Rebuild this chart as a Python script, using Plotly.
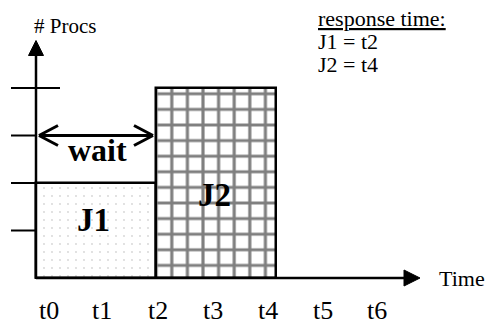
import plotly.graph_objects as go

# jobs in the schedule
jobs = ["J1", "J2"]
job_start = [0, 2]
job_end = [2, 4]
job_procs = [2, 4]

# axis labels
time_labels = ["t0", "t1", "t2", "t3", "t4", "t5", "t6"]
time_label_pos = [0.22, 1.1, 2.03, 2.95, 3.87, 4.78, 5.68]
proc_ticks = [1, 2, 3, 4]

response_lines = ["<u>response time:</u>", "J1 = t2", "J2 = t4"]

# wait interval of J2
wait_from, wait_to, wait_level = 0, 2, 3

# page body keeps an 8px margin, so the figure is 8px smaller
W, H = 486, 318
PX_X = 60.0   # pixels per time unit
PX_Y = 47.5   # pixels per processor
X0, Y0 = 28, 270  # pixel position of origin inside the figure
x_range = [-X0 / PX_X, (W - X0) / PX_X]
y_range = [-(H - Y0) / PX_Y, Y0 / PX_Y]


def dx(px):
    return px / PX_X


def dy(px):
    return px / PX_Y


FONT = "Liberation Serif"
fig = go.Figure()

fig.add_trace(go.Bar(
    x=[(s + e) / 2 for s, e in zip(job_start, job_end)],
    y=job_procs,
    width=[e - s for s, e in zip(job_start, job_end)],
    marker=dict(
        color="white",
        line=dict(color="black", width=2.5),
        pattern=dict(
            shape=[".", "+"],
            size=[8, 15.6],
            solidity=[0.04, 0.36],
            fgcolor=["#a8a8a8", "#000000"],
            bgcolor="white",
            fillmode="overlay",
        ),
    ),
    showlegend=False,
))

line_k = dict(color="black", width=2.5)
shapes = []
# y axis + arrow head
y_tip = 5.0
shapes.append(dict(type="line", x0=0, x1=0, y0=0, y1=y_tip - dy(8), line=line_k))
shapes.append(dict(
    type="path",
    path=f"M {-dx(7.5)},{y_tip - dy(15)} L {dx(7.5)},{y_tip - dy(15)} L 0,{y_tip} Z",
    fillcolor="black", line=dict(color="black", width=1),
))
# x axis + arrow head
x_tip = 6.4
shapes.append(dict(type="line", x0=0, x1=x_tip - dx(8), y0=0, y1=0, line=line_k))
shapes.append(dict(
    type="path",
    path=f"M {x_tip - dx(16)},{-dy(8)} L {x_tip - dx(16)},{dy(8)} L {x_tip},0 Z",
    fillcolor="black", line=dict(color="black", width=1),
))
# processor ticks
for p in proc_ticks:
    right = dx(24) if p == max(proc_ticks) else 0
    shapes.append(dict(type="line", x0=-dx(25), x1=right, y0=p, y1=p,
                       line=dict(color="black", width=2)))
# wait double arrow
wl = dict(color="black", width=3)
a, b = wait_from + dx(3), wait_to - dx(3)
shapes.append(dict(type="line", x0=a, x1=b, y0=wait_level, y1=wait_level, line=wl))
for tip, sgn in ((a, 1), (b, -1)):
    for s2 in (1, -1):
        shapes.append(dict(type="line", x0=tip, y0=wait_level,
                           x1=tip + sgn * dx(19), y1=wait_level + s2 * dy(10), line=wl))

annotations = []
for lab, pos in zip(time_labels, time_label_pos):
    annotations.append(dict(x=pos, y=-dy(32), text=lab, showarrow=False,
                            xanchor="center", yanchor="middle",
                            font=dict(family=FONT, size=26, color="black")))
annotations.append(dict(x=x_tip + dx(17), y=0, text="Time", showarrow=False,
                        xanchor="left", yanchor="middle",
                        font=dict(family=FONT, size=22, color="black")))
annotations.append(dict(x=dx(29), y=dy(252), text="# Procs", showarrow=False,
                        xanchor="center", yanchor="middle",
                        font=dict(family=FONT, size=21, color="black")))
for i, txt in enumerate(response_lines):
    annotations.append(dict(x=dx(280), y=dy(260 - 23 * i), text=txt, showarrow=False,
                            xanchor="left", yanchor="middle",
                            font=dict(family=FONT, size=22, color="black")))
annotations.append(dict(x=(wait_from + wait_to) / 2 + dx(1), y=wait_level - dy(14),
                        text="<b>wait</b>", showarrow=False,
                        xanchor="center", yanchor="middle",
                        font=dict(family=FONT, size=32, color="black")))
label_off = [(-dx(3), dy(10.5)), (-dx(2), -dy(12))]
for j, s, e, p, (ox, oy) in zip(jobs, job_start, job_end, job_procs, label_off):
    annotations.append(dict(x=(s + e) / 2 + ox, y=p / 2 + oy, text=f"<b>{j}</b>",
                            showarrow=False, xanchor="center", yanchor="middle",
                            font=dict(family=FONT, size=33, color="black")))

fig.update_layout(
    width=W, height=H,
    margin=dict(l=0, r=0, t=0, b=0),
    paper_bgcolor="white", plot_bgcolor="white",
    xaxis=dict(range=x_range, visible=False, fixedrange=True),
    yaxis=dict(range=y_range, visible=False, fixedrange=True),
    shapes=shapes, annotations=annotations,
    bargap=0,
)

fig.write_html("out.html")
